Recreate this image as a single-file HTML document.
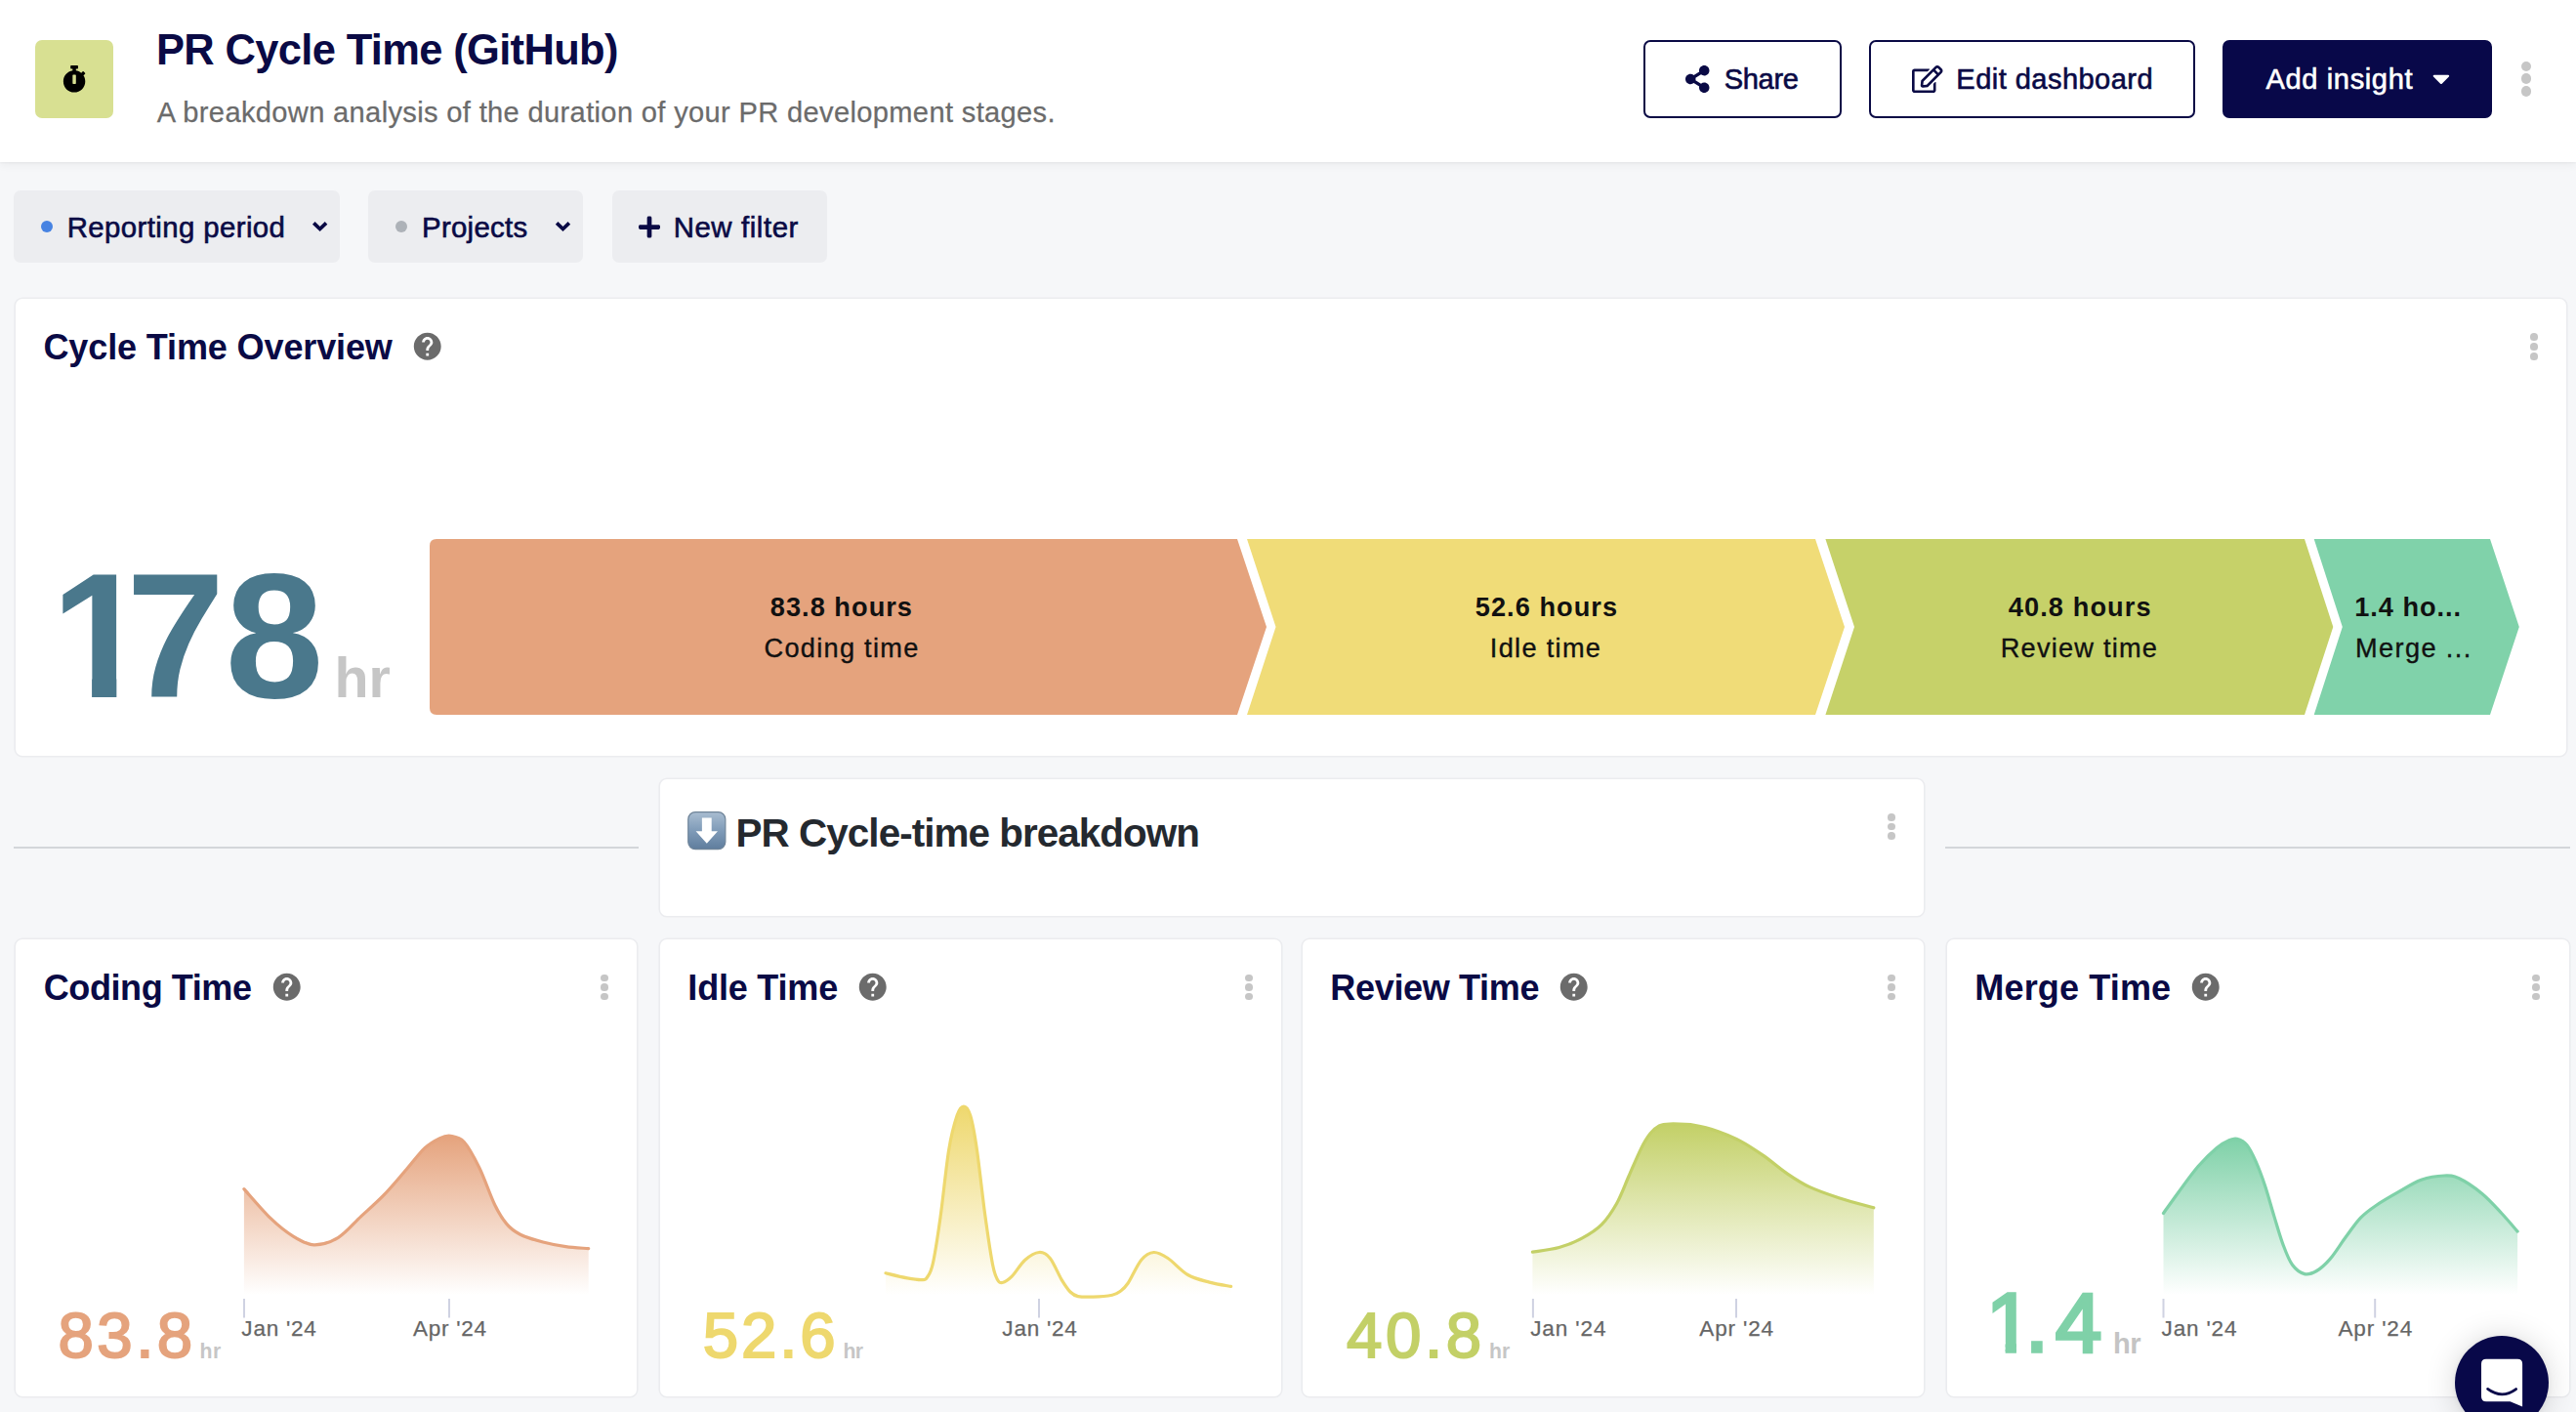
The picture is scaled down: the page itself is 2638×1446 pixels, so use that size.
<!DOCTYPE html>
<html lang="en"><head><meta charset="utf-8"><title>PR Cycle Time (GitHub)</title>
<style>
*{box-sizing:border-box;margin:0;padding:0}
html,body{width:2638px;height:1446px;overflow:hidden}
body{background:#f6f7f9;font-family:"Liberation Sans",sans-serif;position:relative}
.t{position:absolute;white-space:pre;line-height:1;font-family:"Liberation Sans",sans-serif}
.abs{position:absolute}
.header{position:absolute;left:0;top:0;width:2638px;height:166px;background:#fff;box-shadow:0 1px 2px rgba(0,0,0,.04),0 3px 9px rgba(0,0,0,.05)}
.iconbox{position:absolute;left:36px;top:41px;width:80px;height:80px;border-radius:7px;background:#d8e092}
.btn{position:absolute;top:41px;height:80px;border-radius:7px;border:2px solid #0a0a45;background:#fff}
.btn.primary{background:#080849;border-color:#080849}
.chip{position:absolute;top:195px;height:73.7px;border-radius:7px;background:#ecedf0}
.dot{position:absolute;width:12px;height:12px;border-radius:50%}
.card{position:absolute;background:#fff;border-radius:7px;box-shadow:0 0 0 1.6px #ebecef}
.hr{position:absolute;height:2.2px;background:#d3d6da;top:866.8px}
svg{position:absolute;overflow:visible}
.launcher{position:absolute;left:2514px;top:1368px;width:96px;height:96px;border-radius:50%;background:#080849;box-shadow:0 1px 6px rgba(0,0,0,.06),0 2px 32px rgba(0,0,0,.16)}

</style></head>
<body>
<div class="header"></div>
<div class="iconbox"></div>
<div class="btn" style="left:1683px;width:203px"></div>
<div class="btn" style="left:1914px;width:334px"></div>
<div class="btn primary" style="left:2276px;width:276px"></div>
<div class="chip" style="left:14.4px;width:333.9px"></div>
<div class="chip" style="left:376.9px;width:220.2px"></div>
<div class="chip" style="left:626.5px;width:220.1px"></div>
<div class="dot" style="left:42px;top:226px;background:#4783e2"></div>
<div class="dot" style="left:404.9px;top:226.2px;background:#adb2b8"></div>
<div class="card" style="left:15.9px;top:306px;width:2612.4px;height:468.1px"></div>
<div class="hr" style="left:14.3px;width:639.9px"></div>
<div class="hr" style="left:1991.8px;width:640.2px"></div>
<div class="card" style="left:675.8px;top:798.3px;width:1293.9px;height:139.8px"></div>
<div class="card" style="left:15.9px;top:962.2px;width:636.1px;height:467.5px"></div>
<div class="card" style="left:675.8px;top:962.2px;width:636.2px;height:467.5px"></div>
<div class="card" style="left:1333.5px;top:962.2px;width:636.5px;height:467.5px"></div>
<div class="card" style="left:1993.5px;top:962.2px;width:637px;height:467.5px"></div>
<svg width="2638" height="1446" viewBox="0 0 2638 1446" style="left:0;top:0">
<path d="M447 552H1267L1297 642.0L1267 732H447Q440 732 440 725V559Q440 552 447 552Z" fill="#e5a37d"/>
<path d="M1277 552H1859L1889 642.0L1859 732H1277L1306.5 642.0Z" fill="#f0dc78"/>
<path d="M1869.4 552H2360L2389.3 642.0L2360 732H1869.4L1899 642.0Z" fill="#c6d169"/>
<path d="M2369.7 552H2550L2579.8 642.0L2550 732H2369.7L2398.8 642.0Z" fill="#80d2aa"/>
</svg>
<svg viewBox="0 0 448 512" width="24.15" height="27.60" style="left:64.30px;top:67.20px"><path fill="#000" d="M432 304c0 114.900-93.100 208-208 208S16 418.900 16 304c0-104 76.300-190.200 176-205.500V64h-28c-6.600 0-12-5.400-12-12V12c0-6.600 5.400-12 12-12h120c6.600 0 12 5.400 12 12v40c0 6.600-5.400 12-12 12h-28v34.500c37.500 5.800 71.700 21.600 99.700 44.600l27.500-27.500c4.700-4.700 12.300-4.700 17 0l28.300 28.300c4.700 4.700 4.700 12.300 0 17l-29.400 29.400-.6.600C419.700 223.300 432 262.200 432 304zm-176 36V188.500c0-6.600-5.400-12-12-12h-40c-6.600 0-12 5.400-12 12V340c0 6.600 5.400 12 12 12h40c6.600 0 12-5.400 12-12z"/></svg><svg viewBox="0 0 448 512" width="24.50" height="28.00" style="left:1726.00px;top:67.10px"><path fill="#0a0a45" d="M352 320c-22.608 0-43.387 7.819-59.79 20.895l-102.486-64.054a96.551 96.551 0 0 0 0-41.683l102.486-64.054C308.613 184.181 329.392 192 352 192c53.019 0 96-42.981 96-96S405.019 0 352 0s-96 42.981-96 96c0 7.158.79 14.130 2.276 20.841L155.790 180.895C139.387 167.819 118.608 160 96 160c-53.019 0-96 42.981-96 96s42.981 96 96 96c22.608 0 43.387-7.819 59.790-20.895l102.486 64.054A96.301 96.301 0 0 0 256 416c0 53.019 42.981 96 96 96s96-42.981 96-96-42.981-96-96-96z"/></svg><svg viewBox="0 0 576 512" width="31.50" height="28.00" style="left:1958.00px;top:67.00px"><path fill="#0a0a45" d="M402.3 344.9l32-32c5-5 13.700-1.500 13.700 5.700V464c0 26.500-21.500 48-48 48H48c-26.500 0-48-21.500-48-48V112c0-26.500 21.500-48 48-48h273.500c7.100 0 10.700 8.600 5.700 13.700l-32 32c-1.500 1.500-3.500 2.300-5.700 2.300H48v352h352V350.500c0-2.100.8-4.100 2.300-5.600zm156.600-201.800L296.300 405.700l-90.400 10c-26.200 2.900-48.500-19.200-45.600-45.600l10-90.400L432.900 17.100c22.900-22.900 59.900-22.900 82.700 0l43.200 43.200c22.900 22.900 22.900 60 .1 82.800zM460.100 174L402 115.900 216.200 301.800l-7.300 65.300 65.300-7.300L460.100 174zm64.800-79.700l-43.200-43.200c-4.100-4.100-10.800-4.100-14.800 0L436 82l58.100 58.100 30.900-30.900c4-4.200 4-10.800-.1-14.900z"/></svg><svg viewBox="0 0 320 512" width="17.85" height="28.56" style="left:2490.87px;top:66.29px"><path fill="#fff" d="M31.3 192h257.300c17.800 0 26.700 21.500 14.100 34.100L174.100 354.800c-7.800 7.800-20.500 7.800-28.300 0L17.200 226.100C4.600 213.500 13.500 192 31.300 192z"/></svg><svg width="2638" height="1446" viewBox="0 0 2638 1446" style="left:0;top:0"><path d="M322.60 229.600L327.65 234.500L332.70 229.600" fill="none" stroke="#0a0a45" stroke-width="3.700" stroke-linecap="square" stroke-linejoin="miter"/></svg><svg width="2638" height="1446" viewBox="0 0 2638 1446" style="left:0;top:0"><path d="M571.45 229.600L576.50 234.500L581.55 229.600" fill="none" stroke="#0a0a45" stroke-width="3.700" stroke-linecap="square" stroke-linejoin="miter"/></svg><svg viewBox="0 0 448 512" width="22.00" height="25.14" style="left:653.70px;top:219.63px"><path fill="#0a0a45" d="M416 208H272V64c0-17.670-14.330-32-32-32h-32c-17.670 0-32 14.330-32 32v144H32c-17.670 0-32 14.330-32 32v32c0 17.670 14.330 32 32 32h144v144c0 17.670 14.330 32 32 32h32c17.670 0 32-14.330 32-32V304h144c17.670 0 32-14.330 32-32v-32c0-17.670-14.330-32-32-32z"/></svg><svg viewBox="0 0 24 24" width="33.48" height="33.48" style="left:421.26px;top:338.46px"><path fill="#6b6b6b" d="M12 2C6.480 2 2 6.480 2 12s4.480 10 10 10 10-4.480 10-10S17.520 2 12 2zm1 17h-2v-2h2v2zm2.070-7.750l-.9.920C13.450 12.900 13 13.500 13 15h-2v-.5c0-1.100.450-2.100 1.170-2.830l1.240-1.260c.370-.360.590-.860.590-1.410 0-1.100-.9-2-2-2s-2 .9-2 2H8c0-2.210 1.790-4 4-4s4 1.790 4 4c0 .880-.360 1.680-.930 2.250z"/></svg><svg viewBox="0 0 24 24" width="33.48" height="33.48" style="left:277.31px;top:994.11px"><path fill="#6b6b6b" d="M12 2C6.480 2 2 6.480 2 12s4.480 10 10 10 10-4.480 10-10S17.520 2 12 2zm1 17h-2v-2h2v2zm2.070-7.750l-.9.920C13.450 12.900 13 13.500 13 15h-2v-.5c0-1.100.450-2.100 1.170-2.830l1.240-1.260c.370-.360.590-.860.590-1.410 0-1.100-.9-2-2-2s-2 .9-2 2H8c0-2.210 1.790-4 4-4s4 1.790 4 4c0 .880-.360 1.680-.930 2.250z"/></svg><svg viewBox="0 0 24 24" width="33.48" height="33.48" style="left:877.26px;top:994.11px"><path fill="#6b6b6b" d="M12 2C6.480 2 2 6.480 2 12s4.480 10 10 10 10-4.480 10-10S17.520 2 12 2zm1 17h-2v-2h2v2zm2.070-7.750l-.9.920C13.450 12.900 13 13.500 13 15h-2v-.5c0-1.100.450-2.100 1.170-2.830l1.240-1.260c.370-.360.590-.860.590-1.410 0-1.100-.9-2-2-2s-2 .9-2 2H8c0-2.210 1.790-4 4-4s4 1.790 4 4c0 .880-.360 1.680-.930 2.250z"/></svg><svg viewBox="0 0 24 24" width="33.48" height="33.48" style="left:1595.26px;top:994.11px"><path fill="#6b6b6b" d="M12 2C6.480 2 2 6.480 2 12s4.480 10 10 10 10-4.480 10-10S17.520 2 12 2zm1 17h-2v-2h2v2zm2.070-7.750l-.9.920C13.450 12.900 13 13.500 13 15h-2v-.5c0-1.100.450-2.100 1.170-2.830l1.240-1.260c.370-.360.590-.860.590-1.410 0-1.100-.9-2-2-2s-2 .9-2 2H8c0-2.210 1.790-4 4-4s4 1.790 4 4c0 .880-.360 1.680-.930 2.250z"/></svg><svg viewBox="0 0 24 24" width="33.48" height="33.48" style="left:2242.26px;top:994.11px"><path fill="#6b6b6b" d="M12 2C6.480 2 2 6.480 2 12s4.480 10 10 10 10-4.480 10-10S17.520 2 12 2zm1 17h-2v-2h2v2zm2.070-7.750l-.9.920C13.450 12.900 13 13.500 13 15h-2v-.5c0-1.100.450-2.100 1.170-2.830l1.240-1.260c.370-.360.590-.860.590-1.410 0-1.100-.9-2-2-2s-2 .9-2 2H8c0-2.210 1.790-4 4-4s4 1.790 4 4c0 .880-.360 1.680-.930 2.250z"/></svg><div class="abs" style="left:2581.85px;top:62.75px;width:10.3px;height:10.3px;border-radius:50%;background:#c6c6c6"></div><div class="abs" style="left:2581.85px;top:75.45px;width:10.3px;height:10.3px;border-radius:50%;background:#c6c6c6"></div><div class="abs" style="left:2581.85px;top:88.25px;width:10.3px;height:10.3px;border-radius:50%;background:#c6c6c6"></div><div class="abs" style="left:2591.35px;top:341.45px;width:7.7px;height:7.7px;border-radius:50%;background:#c6c6c6"></div><div class="abs" style="left:2591.35px;top:351.25px;width:7.7px;height:7.7px;border-radius:50%;background:#c6c6c6"></div><div class="abs" style="left:2591.35px;top:360.95px;width:7.7px;height:7.7px;border-radius:50%;background:#c6c6c6"></div><div class="abs" style="left:1933.15px;top:833.05px;width:7.7px;height:7.7px;border-radius:50%;background:#c6c6c6"></div><div class="abs" style="left:1933.15px;top:842.75px;width:7.7px;height:7.7px;border-radius:50%;background:#c6c6c6"></div><div class="abs" style="left:1933.15px;top:852.45px;width:7.7px;height:7.7px;border-radius:50%;background:#c6c6c6"></div><div class="abs" style="left:615.35px;top:997.75px;width:7.7px;height:7.7px;border-radius:50%;background:#c6c6c6"></div><div class="abs" style="left:615.35px;top:1007.15px;width:7.7px;height:7.7px;border-radius:50%;background:#c6c6c6"></div><div class="abs" style="left:615.35px;top:1016.75px;width:7.7px;height:7.7px;border-radius:50%;background:#c6c6c6"></div><div class="abs" style="left:1275.35px;top:997.75px;width:7.7px;height:7.7px;border-radius:50%;background:#c6c6c6"></div><div class="abs" style="left:1275.35px;top:1007.15px;width:7.7px;height:7.7px;border-radius:50%;background:#c6c6c6"></div><div class="abs" style="left:1275.35px;top:1016.75px;width:7.7px;height:7.7px;border-radius:50%;background:#c6c6c6"></div><div class="abs" style="left:1933.15px;top:997.75px;width:7.7px;height:7.7px;border-radius:50%;background:#c6c6c6"></div><div class="abs" style="left:1933.15px;top:1007.15px;width:7.7px;height:7.7px;border-radius:50%;background:#c6c6c6"></div><div class="abs" style="left:1933.15px;top:1016.75px;width:7.7px;height:7.7px;border-radius:50%;background:#c6c6c6"></div><div class="abs" style="left:2593.45px;top:997.75px;width:7.7px;height:7.7px;border-radius:50%;background:#c6c6c6"></div><div class="abs" style="left:2593.45px;top:1007.15px;width:7.7px;height:7.7px;border-radius:50%;background:#c6c6c6"></div><div class="abs" style="left:2593.45px;top:1016.75px;width:7.7px;height:7.7px;border-radius:50%;background:#c6c6c6"></div><svg viewBox="0 0 40 40" width="39.6" height="39.3" style="left:704.1px;top:831.1px" role="img" aria-label="down arrow">
<defs><linearGradient id="em" x1="0" y1="0" x2="0" y2="1"><stop offset="0" stop-color="#a9bdd1"/><stop offset=".5" stop-color="#7f9bb8"/><stop offset="1" stop-color="#5f7d9d"/></linearGradient></defs>
<rect x="0.6" y="0.6" width="38.8" height="38.8" rx="7.5" fill="url(#em)" stroke="#6f8499" stroke-width="1.2"/>
<path d="M15 6.500h10v14h6.400L20 33.300 8.600 20.500H15z" fill="#fff"/></svg>
<svg width="2638" height="1446" viewBox="0 0 2638 1446" style="left:0;top:0">
<defs>
<linearGradient id="g1" gradientUnits="userSpaceOnUse" x1="0" y1="1163.3" x2="0" y2="1326"><stop offset="0" stop-color="#e5a37d" stop-opacity="1"/><stop offset="1" stop-color="#e5a37d" stop-opacity="0"/></linearGradient>
<linearGradient id="g2" gradientUnits="userSpaceOnUse" x1="0" y1="1133.0" x2="0" y2="1326"><stop offset="0" stop-color="#eed86e" stop-opacity="1"/><stop offset="1" stop-color="#eed86e" stop-opacity="0"/></linearGradient>
<linearGradient id="g3" gradientUnits="userSpaceOnUse" x1="0" y1="1151.0" x2="0" y2="1326"><stop offset="0" stop-color="#c3d067" stop-opacity="1"/><stop offset="1" stop-color="#c3d067" stop-opacity="0"/></linearGradient>
<linearGradient id="g4" gradientUnits="userSpaceOnUse" x1="0" y1="1166.4" x2="0" y2="1326"><stop offset="0" stop-color="#7fd1a8" stop-opacity="1"/><stop offset="1" stop-color="#7fd1a8" stop-opacity="0"/></linearGradient>
</defs>
<path d="M249.9 1217.6C254.4 1222.5 268.3 1239.1 276.6 1247.1C284.9 1255.1 292.4 1261.2 299.9 1265.8C307.4 1270.4 313.8 1274.5 321.6 1274.8C329.4 1275.0 338.5 1272.2 346.5 1267.3C354.5 1262.4 362.1 1252.8 369.8 1245.6C377.6 1238.4 385.2 1231.9 393.0 1223.9C400.8 1215.9 409.3 1205.5 416.3 1197.5C423.3 1189.5 429.3 1181.0 435.0 1175.7C440.7 1170.4 446.1 1167.7 450.5 1165.6C454.9 1163.5 457.3 1162.6 461.4 1163.3C465.5 1164.0 470.4 1164.1 475.3 1169.5C480.2 1174.9 485.7 1185.3 490.9 1195.9C496.1 1206.5 501.8 1223.6 506.4 1233.2C511.0 1242.8 514.4 1248.2 518.8 1253.4C523.2 1258.6 526.6 1261.1 532.8 1264.2C539.0 1267.3 548.3 1269.9 556.1 1272.0C563.9 1274.1 571.6 1275.5 579.4 1276.6C587.2 1277.7 598.8 1278.3 602.7 1278.7L602.7 1326L249.9 1326Z" fill="url(#g1)"/>
<path d="M249.9 1217.6C254.4 1222.5 268.3 1239.1 276.6 1247.1C284.9 1255.1 292.4 1261.2 299.9 1265.8C307.4 1270.4 313.8 1274.5 321.6 1274.8C329.4 1275.0 338.5 1272.2 346.5 1267.3C354.5 1262.4 362.1 1252.8 369.8 1245.6C377.6 1238.4 385.2 1231.9 393.0 1223.9C400.8 1215.9 409.3 1205.5 416.3 1197.5C423.3 1189.5 429.3 1181.0 435.0 1175.7C440.7 1170.4 446.1 1167.7 450.5 1165.6C454.9 1163.5 457.3 1162.6 461.4 1163.3C465.5 1164.0 470.4 1164.1 475.3 1169.5C480.2 1174.9 485.7 1185.3 490.9 1195.9C496.1 1206.5 501.8 1223.6 506.4 1233.2C511.0 1242.8 514.4 1248.2 518.8 1253.4C523.2 1258.6 526.6 1261.1 532.8 1264.2C539.0 1267.3 548.3 1269.9 556.1 1272.0C563.9 1274.1 571.6 1275.5 579.4 1276.6C587.2 1277.7 598.8 1278.3 602.7 1278.7" fill="none" stroke="#e5a37d" stroke-width="3.2" stroke-linecap="round" stroke-linejoin="round"/>
<rect x="249.0" y="1330" width="2" height="19.500" fill="#cfd2e2"/>
<rect x="459.0" y="1330" width="2" height="19.500" fill="#cfd2e2"/>
<path d="M907.0 1303.8C910.7 1304.7 922.9 1307.8 929.1 1308.9C935.3 1310.0 940.6 1310.8 944.0 1310.6C947.4 1310.4 947.6 1310.8 949.5 1308.0C951.4 1305.2 953.1 1303.9 955.4 1293.6C957.7 1283.3 960.4 1265.3 963.1 1246.0C965.8 1226.7 968.8 1195.3 971.6 1178.0C974.4 1160.7 977.6 1149.8 980.1 1142.3C982.6 1134.8 984.6 1133.0 986.9 1133.0C989.2 1133.0 991.4 1134.8 993.7 1142.3C996.0 1149.8 998.0 1160.7 1000.5 1178.0C1003.0 1195.3 1006.3 1226.5 1009.0 1246.0C1011.7 1265.5 1014.5 1284.5 1016.6 1295.3C1018.7 1306.0 1019.9 1307.5 1021.5 1310.5C1023.1 1313.5 1024.0 1314.0 1026.5 1313.5C1029.0 1313.0 1032.3 1311.1 1036.2 1307.2C1040.1 1303.3 1045.1 1294.3 1049.8 1290.2C1054.5 1286.1 1060.0 1282.8 1064.2 1282.5C1068.5 1282.2 1071.5 1283.8 1075.3 1288.5C1079.1 1293.2 1083.8 1304.8 1087.2 1310.6C1090.7 1316.3 1093.2 1320.2 1096.0 1323.0C1098.8 1325.8 1100.1 1326.8 1104.0 1327.6C1107.9 1328.4 1113.7 1328.3 1119.5 1328.1C1125.3 1327.9 1134.4 1327.1 1139.0 1326.2C1143.6 1325.3 1144.3 1324.5 1147.0 1322.5C1149.7 1320.5 1151.6 1319.4 1155.2 1314.0C1158.8 1308.6 1164.4 1295.5 1168.8 1290.2C1173.2 1285.0 1177.0 1282.8 1181.5 1282.5C1186.0 1282.2 1190.2 1284.7 1196.0 1288.5C1201.8 1292.3 1209.3 1301.4 1216.4 1305.5C1223.5 1309.6 1231.1 1311.1 1238.5 1313.1C1245.9 1315.1 1256.9 1316.7 1260.6 1317.4L1260.6 1326L907.0 1326Z" fill="url(#g2)"/>
<path d="M907.0 1303.8C910.7 1304.7 922.9 1307.8 929.1 1308.9C935.3 1310.0 940.6 1310.8 944.0 1310.6C947.4 1310.4 947.6 1310.8 949.5 1308.0C951.4 1305.2 953.1 1303.9 955.4 1293.6C957.7 1283.3 960.4 1265.3 963.1 1246.0C965.8 1226.7 968.8 1195.3 971.6 1178.0C974.4 1160.7 977.6 1149.8 980.1 1142.3C982.6 1134.8 984.6 1133.0 986.9 1133.0C989.2 1133.0 991.4 1134.8 993.7 1142.3C996.0 1149.8 998.0 1160.7 1000.5 1178.0C1003.0 1195.3 1006.3 1226.5 1009.0 1246.0C1011.7 1265.5 1014.5 1284.5 1016.6 1295.3C1018.7 1306.0 1019.9 1307.5 1021.5 1310.5C1023.1 1313.5 1024.0 1314.0 1026.5 1313.5C1029.0 1313.0 1032.3 1311.1 1036.2 1307.2C1040.1 1303.3 1045.1 1294.3 1049.8 1290.2C1054.5 1286.1 1060.0 1282.8 1064.2 1282.5C1068.5 1282.2 1071.5 1283.8 1075.3 1288.5C1079.1 1293.2 1083.8 1304.8 1087.2 1310.6C1090.7 1316.3 1093.2 1320.2 1096.0 1323.0C1098.8 1325.8 1100.1 1326.8 1104.0 1327.6C1107.9 1328.4 1113.7 1328.3 1119.5 1328.1C1125.3 1327.9 1134.4 1327.1 1139.0 1326.2C1143.6 1325.3 1144.3 1324.5 1147.0 1322.5C1149.7 1320.5 1151.6 1319.4 1155.2 1314.0C1158.8 1308.6 1164.4 1295.5 1168.8 1290.2C1173.2 1285.0 1177.0 1282.8 1181.5 1282.5C1186.0 1282.2 1190.2 1284.7 1196.0 1288.5C1201.8 1292.3 1209.3 1301.4 1216.4 1305.5C1223.5 1309.6 1231.1 1311.1 1238.5 1313.1C1245.9 1315.1 1256.9 1316.7 1260.6 1317.4" fill="none" stroke="#eed86e" stroke-width="3.2" stroke-linecap="round" stroke-linejoin="round"/>
<rect x="1063.0" y="1330" width="2" height="19.500" fill="#cfd2e2"/>
<path d="M1569.4 1282.2C1573.9 1281.4 1588.2 1279.8 1596.6 1277.5C1605.0 1275.2 1612.7 1272.1 1619.9 1268.2C1627.2 1264.3 1634.1 1260.2 1640.1 1254.2C1646.0 1248.2 1650.9 1240.8 1655.6 1232.5C1660.2 1224.2 1663.9 1213.8 1668.0 1204.5C1672.1 1195.2 1676.8 1183.8 1680.4 1176.6C1684.0 1169.4 1686.7 1165.0 1689.8 1161.1C1692.9 1157.2 1695.8 1154.7 1699.1 1153.0C1702.4 1151.3 1703.7 1151.1 1709.9 1151.0C1716.1 1150.9 1728.0 1151.2 1736.3 1152.5C1744.6 1153.8 1751.8 1156.0 1759.6 1158.7C1767.4 1161.4 1775.1 1164.7 1782.9 1168.8C1790.7 1172.9 1798.4 1178.2 1806.2 1183.6C1814.0 1189.0 1821.7 1196.1 1829.5 1201.4C1837.3 1206.7 1843.7 1211.1 1852.8 1215.4C1861.9 1219.7 1872.9 1223.4 1883.9 1227.0C1894.9 1230.6 1913.0 1235.2 1918.8 1236.8L1918.8 1326L1569.4 1326Z" fill="url(#g3)"/>
<path d="M1569.4 1282.2C1573.9 1281.4 1588.2 1279.8 1596.6 1277.5C1605.0 1275.2 1612.7 1272.1 1619.9 1268.2C1627.2 1264.3 1634.1 1260.2 1640.1 1254.2C1646.0 1248.2 1650.9 1240.8 1655.6 1232.5C1660.2 1224.2 1663.9 1213.8 1668.0 1204.5C1672.1 1195.2 1676.8 1183.8 1680.4 1176.6C1684.0 1169.4 1686.7 1165.0 1689.8 1161.1C1692.9 1157.2 1695.8 1154.7 1699.1 1153.0C1702.4 1151.3 1703.7 1151.1 1709.9 1151.0C1716.1 1150.9 1728.0 1151.2 1736.3 1152.5C1744.6 1153.8 1751.8 1156.0 1759.6 1158.7C1767.4 1161.4 1775.1 1164.7 1782.9 1168.8C1790.7 1172.9 1798.4 1178.2 1806.2 1183.6C1814.0 1189.0 1821.7 1196.1 1829.5 1201.4C1837.3 1206.7 1843.7 1211.1 1852.8 1215.4C1861.9 1219.7 1872.9 1223.4 1883.9 1227.0C1894.9 1230.6 1913.0 1235.2 1918.8 1236.8" fill="none" stroke="#c3d067" stroke-width="3.2" stroke-linecap="round" stroke-linejoin="round"/>
<rect x="1568.9" y="1330" width="2" height="19.500" fill="#cfd2e2"/>
<rect x="1777.0" y="1330" width="2" height="19.500" fill="#cfd2e2"/>
<path d="M2215.5 1242.5C2218.1 1238.9 2225.2 1228.7 2231.1 1220.7C2237.0 1212.7 2244.7 1201.8 2251.2 1194.3C2257.7 1186.8 2264.7 1180.1 2269.9 1175.7C2275.1 1171.3 2278.8 1169.5 2282.3 1168.0C2285.8 1166.5 2287.7 1165.6 2290.8 1166.4C2293.9 1167.2 2297.7 1168.7 2300.9 1172.6C2304.1 1176.5 2307.1 1182.7 2310.2 1189.7C2313.3 1196.7 2316.5 1205.2 2319.6 1214.5C2322.7 1223.8 2325.8 1235.5 2328.9 1245.6C2332.0 1255.7 2335.1 1266.8 2338.2 1275.1C2341.3 1283.4 2343.9 1290.4 2347.5 1295.3C2351.1 1300.2 2355.8 1303.6 2359.9 1304.6C2364.1 1305.6 2368.0 1304.1 2372.4 1301.5C2376.8 1298.9 2381.4 1294.8 2386.3 1289.1C2391.2 1283.4 2396.7 1274.3 2401.9 1267.3C2407.1 1260.3 2412.2 1252.5 2417.4 1247.1C2422.6 1241.7 2426.4 1239.1 2432.9 1234.7C2439.4 1230.3 2448.4 1225.1 2456.2 1220.7C2464.0 1216.3 2471.7 1211.1 2479.5 1208.3C2487.3 1205.5 2496.3 1204.2 2502.8 1204.0C2509.3 1203.8 2511.8 1203.8 2518.3 1206.8C2524.8 1209.8 2534.3 1216.3 2541.6 1222.3C2548.8 1228.2 2555.7 1236.0 2561.8 1242.5C2567.9 1249.0 2575.4 1258.0 2578.1 1261.1L2578.1 1326L2215.5 1326Z" fill="url(#g4)"/>
<path d="M2215.5 1242.5C2218.1 1238.9 2225.2 1228.7 2231.1 1220.7C2237.0 1212.7 2244.7 1201.8 2251.2 1194.3C2257.7 1186.8 2264.7 1180.1 2269.9 1175.7C2275.1 1171.3 2278.8 1169.5 2282.3 1168.0C2285.8 1166.5 2287.7 1165.6 2290.8 1166.4C2293.9 1167.2 2297.7 1168.7 2300.9 1172.6C2304.1 1176.5 2307.1 1182.7 2310.2 1189.7C2313.3 1196.7 2316.5 1205.2 2319.6 1214.5C2322.7 1223.8 2325.8 1235.5 2328.9 1245.6C2332.0 1255.7 2335.1 1266.8 2338.2 1275.1C2341.3 1283.4 2343.9 1290.4 2347.5 1295.3C2351.1 1300.2 2355.8 1303.6 2359.9 1304.6C2364.1 1305.6 2368.0 1304.1 2372.4 1301.5C2376.8 1298.9 2381.4 1294.8 2386.3 1289.1C2391.2 1283.4 2396.7 1274.3 2401.9 1267.3C2407.1 1260.3 2412.2 1252.5 2417.4 1247.1C2422.6 1241.7 2426.4 1239.1 2432.9 1234.7C2439.4 1230.3 2448.4 1225.1 2456.2 1220.7C2464.0 1216.3 2471.7 1211.1 2479.5 1208.3C2487.3 1205.5 2496.3 1204.2 2502.8 1204.0C2509.3 1203.8 2511.8 1203.8 2518.3 1206.8C2524.8 1209.8 2534.3 1216.3 2541.6 1222.3C2548.8 1228.2 2555.7 1236.0 2561.8 1242.5C2567.9 1249.0 2575.4 1258.0 2578.1 1261.1" fill="none" stroke="#7fd1a8" stroke-width="3.2" stroke-linecap="round" stroke-linejoin="round"/>
<rect x="2214.5" y="1330" width="2" height="19.500" fill="#cfd2e2"/>
<rect x="2431.2" y="1330" width="2" height="19.500" fill="#cfd2e2"/>
</svg>
<div class="launcher"></div>
<svg width="2638" height="1446" viewBox="0 0 2638 1446" style="left:0;top:0">
<path d="M2546 1391.700H2578.100Q2583.100 1391.700 2583.100 1396.700V1440.400L2570.500 1435.200H2546Q2541 1435.200 2541 1430.200V1396.700Q2541 1391.700 2546 1391.700Z" fill="#fff"/>
<path d="M2547.600 1422.400Q2562 1433.200 2576.600 1422.600" fill="none" stroke="#080849" stroke-width="2.800" stroke-linecap="round"/>
</svg>

<!-- text layer -->
<span class="t" style="left:51.90px;top:561.04px;font-size:181.6px;font-weight:700;color:#4a788c;"><span style="display:inline-block;letter-spacing:-23.70px;clip-path:polygon(-9px -40px,67.45px -40px,67.45px 221.6px,42.19px 221.6px,42.19px 133.93px,-9px 133.93px)">1</span><span style="letter-spacing:0.40px">7</span><span style="letter-spacing:0.00px">8</span></span>
<span class="t" style="left:2034.00px;top:1312.22px;font-size:85.6px;font-weight:400;color:#7fd1a8;-webkit-text-stroke:3.4px currentColor;"><span style="display:inline-block;letter-spacing:-7.51px;clip-path:polygon(-9px -40px,30.94px -40px,30.94px 125.6px,19.63px 125.6px,19.63px 63.08px,-9px 63.08px)">1</span><span style="letter-spacing:6.92px">.</span><span style="letter-spacing:0.00px">4</span></span>
<span class="t" style="left:160.02px;top:30.20px;font-size:43.46px;font-weight:700;letter-spacing:-0.644px;color:#0a0a45;">PR Cycle Time (GitHub)</span>
<span class="t" style="left:160.78px;top:101.19px;font-size:29.07px;font-weight:400;letter-spacing:0.351px;color:#6b6b6b;-webkit-text-stroke:0.25px currentColor;">A breakdown analysis of the duration of your PR development stages.</span>
<span class="t" style="left:1765.75px;top:67.19px;font-size:29.07px;font-weight:400;letter-spacing:-0.347px;color:#0a0a45;-webkit-text-stroke:0.6px currentColor;">Share</span>
<span class="t" style="left:2003.34px;top:67.19px;font-size:29.07px;font-weight:400;letter-spacing:0.443px;color:#0a0a45;-webkit-text-stroke:0.6px currentColor;">Edit dashboard</span>
<span class="t" style="left:2320.52px;top:67.19px;font-size:29.07px;font-weight:400;letter-spacing:0.619px;color:#ffffff;-webkit-text-stroke:0.6px currentColor;">Add insight</span>
<span class="t" style="left:68.67px;top:218.14px;font-size:29.36px;font-weight:400;letter-spacing:0.411px;color:#0a0a45;-webkit-text-stroke:0.6px currentColor;">Reporting period</span>
<span class="t" style="left:432.07px;top:218.14px;font-size:29.36px;font-weight:400;letter-spacing:0.282px;color:#0a0a45;-webkit-text-stroke:0.6px currentColor;">Projects</span>
<span class="t" style="left:689.63px;top:217.94px;font-size:29.36px;font-weight:400;letter-spacing:0.600px;color:#0a0a45;-webkit-text-stroke:0.6px currentColor;">New filter</span>
<span class="t" style="left:44.45px;top:337.98px;font-size:36.05px;font-weight:700;letter-spacing:-0.142px;color:#0a0a45;">Cycle Time Overview</span>
<span class="t" style="left:342.57px;top:666.19px;font-size:57.41px;font-weight:700;letter-spacing:-0.039px;color:#c6c6c6;">hr</span>
<span class="t" style="left:788.78px;top:608.49px;font-size:27.18px;font-weight:700;letter-spacing:1.034px;color:#111;">83.8 hours</span>
<span class="t" style="left:782.57px;top:650.29px;font-size:27.18px;font-weight:400;letter-spacing:1.270px;color:#111;-webkit-text-stroke:0.35px currentColor;">Coding time</span>
<span class="t" style="left:1510.81px;top:608.49px;font-size:27.18px;font-weight:700;letter-spacing:1.038px;color:#111;">52.6 hours</span>
<span class="t" style="left:1525.79px;top:650.29px;font-size:27.18px;font-weight:400;letter-spacing:1.311px;color:#111;-webkit-text-stroke:0.35px currentColor;">Idle time</span>
<span class="t" style="left:2056.80px;top:608.49px;font-size:27.18px;font-weight:700;letter-spacing:1.093px;color:#111;">40.8 hours</span>
<span class="t" style="left:2048.70px;top:650.29px;font-size:27.18px;font-weight:400;letter-spacing:1.227px;color:#111;-webkit-text-stroke:0.35px currentColor;">Review time</span>
<span class="t" style="left:2411.29px;top:608.49px;font-size:27.18px;font-weight:700;letter-spacing:0.952px;color:#111;">1.4 ho...</span>
<span class="t" style="left:2412.12px;top:650.29px;font-size:27.18px;font-weight:400;letter-spacing:1.361px;color:#111;-webkit-text-stroke:0.35px currentColor;">Merge ...</span>
<span class="t" style="left:753.62px;top:832.88px;font-size:40.41px;font-weight:700;letter-spacing:-0.953px;color:#24292f;">PR Cycle-time breakdown</span>
<span class="t" style="left:44.77px;top:994.28px;font-size:36.05px;font-weight:700;letter-spacing:-0.443px;color:#0a0a45;">Coding Time</span>
<span class="t" style="left:704.34px;top:994.28px;font-size:36.05px;font-weight:700;letter-spacing:-0.213px;color:#0a0a45;">Idle Time</span>
<span class="t" style="left:1362.34px;top:994.28px;font-size:36.05px;font-weight:700;letter-spacing:-0.356px;color:#0a0a45;">Review Time</span>
<span class="t" style="left:2022.34px;top:994.28px;font-size:36.05px;font-weight:700;letter-spacing:0.129px;color:#0a0a45;">Merge Time</span>
<span class="t" style="left:59.56px;top:1335.32px;font-size:65.41px;font-weight:400;letter-spacing:3.447px;color:#e5a37d;-webkit-text-stroke:2px currentColor;">83.8</span>
<span class="t" style="left:719.78px;top:1335.32px;font-size:65.41px;font-weight:400;letter-spacing:2.824px;color:#eed86e;-webkit-text-stroke:2px currentColor;">52.6</span>
<span class="t" style="left:1379.05px;top:1335.32px;font-size:65.41px;font-weight:400;letter-spacing:3.605px;color:#c3d067;-webkit-text-stroke:2px currentColor;">40.8</span>
<span class="t" style="left:204.45px;top:1372.73px;font-size:21.22px;font-weight:700;letter-spacing:0.654px;color:#c6c6c6;">hr</span>
<span class="t" style="left:863.45px;top:1372.73px;font-size:21.22px;font-weight:700;letter-spacing:-0.556px;color:#c6c6c6;">hr</span>
<span class="t" style="left:1524.89px;top:1372.73px;font-size:21.22px;font-weight:700;letter-spacing:0.284px;color:#c6c6c6;">hr</span>
<span class="t" style="left:2164.05px;top:1362.09px;font-size:29.07px;font-weight:700;letter-spacing:-0.577px;color:#c4c4c4;">hr</span>
<span class="t" style="left:247.37px;top:1349.92px;font-size:22.53px;font-weight:400;letter-spacing:0.758px;color:#666666;-webkit-text-stroke:0.25px currentColor;">Jan &#39;24</span>
<span class="t" style="left:422.96px;top:1349.92px;font-size:22.53px;font-weight:400;letter-spacing:0.723px;color:#666666;-webkit-text-stroke:0.25px currentColor;">Apr &#39;24</span>
<span class="t" style="left:1026.37px;top:1349.92px;font-size:22.53px;font-weight:400;letter-spacing:0.758px;color:#666666;-webkit-text-stroke:0.25px currentColor;">Jan &#39;24</span>
<span class="t" style="left:1567.21px;top:1349.92px;font-size:22.53px;font-weight:400;letter-spacing:0.883px;color:#666666;-webkit-text-stroke:0.25px currentColor;">Jan &#39;24</span>
<span class="t" style="left:1740.31px;top:1349.92px;font-size:22.53px;font-weight:400;letter-spacing:0.859px;color:#666666;-webkit-text-stroke:0.25px currentColor;">Apr &#39;24</span>
<span class="t" style="left:2213.58px;top:1349.92px;font-size:22.53px;font-weight:400;letter-spacing:0.824px;color:#666666;-webkit-text-stroke:0.25px currentColor;">Jan &#39;24</span>
<span class="t" style="left:2394.40px;top:1349.92px;font-size:22.53px;font-weight:400;letter-spacing:0.869px;color:#666666;-webkit-text-stroke:0.25px currentColor;">Apr &#39;24</span>
</body></html>
